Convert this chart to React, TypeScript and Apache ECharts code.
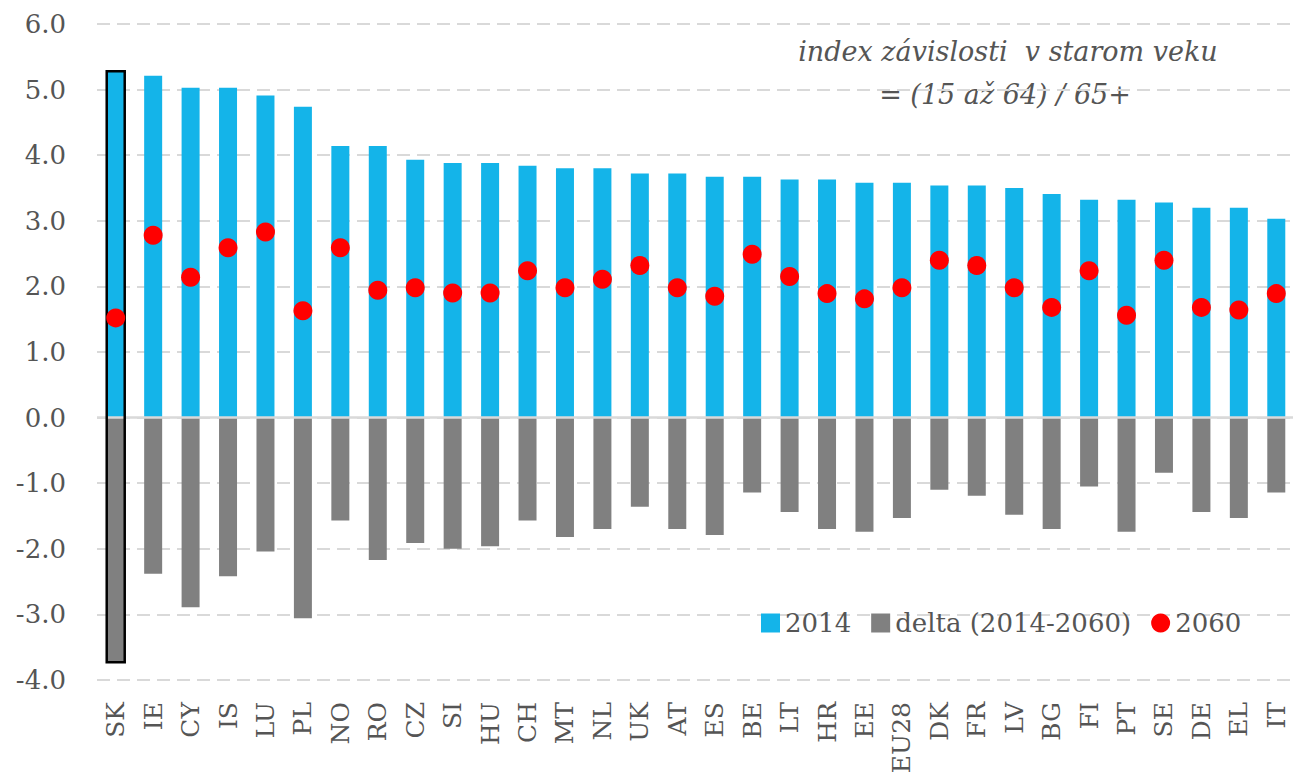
import React, { useEffect, useRef } from "react";
import * as echarts from "echarts";

const categories = ["SK","IE","CY","IS","LU","PL","NO","RO","CZ","SI","HU","CH","MT","NL","UK","AT","ES","BE","LT","HR","EE","EU28","DK","FR","LV","BG","FI","PT","SE","DE","EL","IT"];

const values2014 = [5.28,5.21,5.03,5.03,4.91,4.74,4.14,4.14,3.93,3.88,3.88,3.84,3.80,3.80,3.72,3.72,3.67,3.67,3.63,3.63,3.58,3.58,3.54,3.54,3.50,3.41,3.32,3.32,3.28,3.20,3.20,3.03];

const valuesDelta = [-3.73,-2.38,-2.89,-2.42,-2.04,-3.06,-1.57,-2.17,-1.91,-2.00,-1.96,-1.57,-1.82,-1.70,-1.36,-1.70,-1.79,-1.14,-1.44,-1.70,-1.74,-1.53,-1.10,-1.19,-1.48,-1.70,-1.05,-1.74,-0.84,-1.44,-1.53,-1.14];

const values2060 = [1.52,2.78,2.14,2.59,2.83,1.63,2.59,1.94,1.98,1.90,1.90,2.24,1.98,2.11,2.32,1.98,1.85,2.49,2.15,1.89,1.81,1.98,2.40,2.32,1.98,1.68,2.24,1.56,2.40,1.68,1.64,1.89];

const highlighted = ["SK"];

const yTicks = { min: -4, max: 6, interval: 1 };

const FONT = "'DejaVu Serif', serif";
const TEXT = "#555555";
const BLUE = "#14B4E9";
const GRAY = "#808080";
const RED = "#FF0000";
const BAR_W = 18;

export default function App() {
  const ref = useRef<HTMLDivElement>(null);
  useEffect(() => {
    if (!ref.current) return;
    const chart = echarts.init(ref.current, null, { renderer: "svg" });
    const outlineData = categories
      .map((c, i) => (highlighted.includes(c) ? [i, values2014[i], valuesDelta[i]] : null))
      .filter((d) => d !== null);
    chart.setOption({
      animation: false,
      textStyle: { fontFamily: FONT },
      grid: {
        left: 97,
        width: 1198,
        top: 24,
        bottom: 99,
        containLabel: false,
        outerBoundsMode: "none",
      },
      legend: {
        left: 756,
        top: 605,
        itemWidth: 19,
        itemHeight: 19,
        itemGap: 20,
        textStyle: { color: TEXT, fontSize: 26, fontFamily: FONT },
        data: [
          { name: "2014", icon: "rect" },
          { name: "delta (2014-2060)", icon: "rect" },
          { name: "2060", icon: "circle" },
        ],
      },
      graphic: [
        {
          type: "text",
          x: 1008,
          y: 51,
          style: {
            text: "index závislosti  v starom veku",
            fontFamily: FONT,
            fontStyle: "italic",
            fontSize: 27,
            fill: TEXT,
            textAlign: "center",
            textVerticalAlign: "middle",
          },
        },
        {
          type: "text",
          x: 1005,
          y: 94,
          style: {
            text: "= (15 až 64) / 65+",
            fontFamily: FONT,
            fontStyle: "italic",
            fontSize: 27,
            fill: TEXT,
            textAlign: "center",
            textVerticalAlign: "middle",
          },
        },
      ],
      xAxis: {
        type: "category",
        data: categories,
        axisLine: { show: false, onZero: false },
        axisTick: { show: false },
        axisLabel: {
          rotate: 90,
          margin: 22,
          interval: 0,
          color: TEXT,
          fontSize: 25,
          fontFamily: FONT,
        },
      },
      yAxis: {
        type: "value",
        min: yTicks.min,
        max: yTicks.max,
        interval: yTicks.interval,
        axisLine: { show: false },
        axisTick: { show: false },
        axisLabel: {
          margin: 31,
          color: TEXT,
          fontSize: 26,
          fontFamily: FONT,
          formatter: (v: number) => v.toFixed(1),
        },
        splitLine: {
          show: true,
          lineStyle: { color: "#D9D9D9", width: 2, type: [13, 7] },
        },
      },
      series: [
        {
          name: "2014",
          type: "bar",
          barWidth: BAR_W,
          barGap: "-100%",
          itemStyle: { color: BLUE },
          data: values2014,
          z: 2,
        },
        {
          name: "delta (2014-2060)",
          type: "bar",
          barWidth: BAR_W,
          barGap: "-100%",
          itemStyle: { color: GRAY },
          data: valuesDelta,
          z: 2,
          markLine: {
            silent: true,
            symbol: ["none", "none"],
            label: { show: false },
            lineStyle: { color: "#D9D9D9", width: 2.5, type: "solid" },
            data: [{ yAxis: 0 }],
          },
        },
        {
          name: "outline",
          type: "custom",
          z: 5,
          silent: true,
          data: outlineData,
          renderItem: (params: any, api: any) => {
            const x = api.value(0);
            const top = api.coord([x, api.value(1)]);
            const bot = api.coord([x, api.value(2)]);
            const w = BAR_W;
            return {
              type: "rect",
              shape: { x: top[0] - w / 2, y: top[1], width: w, height: bot[1] - top[1] },
              style: { fill: "none", stroke: "#000000", lineWidth: 2.5 },
            };
          },
        },
        {
          name: "2060",
          type: "scatter",
          symbol: "circle",
          symbolSize: 19,
          itemStyle: { color: RED, opacity: 1 },
          data: values2060,
          z: 6,
        },
      ],
    });
    return () => chart.dispose();
  }, []);
  return (
    <div
      ref={ref}
      style={{ position: "fixed", left: 0, top: 0, width: 1293, height: 779, background: "#fff" }}
    />
  );
}
